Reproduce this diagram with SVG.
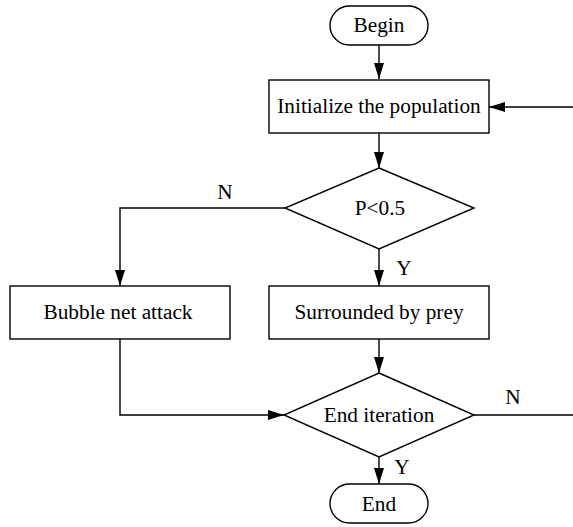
<svg xmlns="http://www.w3.org/2000/svg" width="573" height="527" viewBox="0 0 573 527">
  <style>
    .shape { fill: #ffffff; stroke: #000000; stroke-width: 1.4; }
    .wire { fill: none; stroke: #000000; stroke-width: 1.4; }
    .label { font-family: "Liberation Serif", "Times New Roman", serif; font-size: 21.3px; fill: #000000; text-anchor: middle; }
  </style>
  <defs>
    <marker id="arrow" markerUnits="userSpaceOnUse" markerWidth="16" markerHeight="10" refX="16" refY="5" orient="auto">
      <path d="M0,0 L16,5 L0,10 Z" fill="#000000"/>
    </marker>
  </defs>

  <rect width="573" height="527" fill="#ffffff"/>

  <g id="connectors">
    <line class="wire" x1="379" y1="45" x2="379" y2="79" marker-end="url(#arrow)"/>
    <line class="wire" x1="573" y1="107" x2="489" y2="107" marker-end="url(#arrow)"/>
    <line class="wire" x1="379" y1="133" x2="379" y2="168" marker-end="url(#arrow)"/>
    <polyline class="wire" points="285,208 120,208 120,286" marker-end="url(#arrow)"/>
    <line class="wire" x1="379" y1="249" x2="379" y2="286" marker-end="url(#arrow)"/>
    <line class="wire" x1="379" y1="339" x2="379" y2="373" marker-end="url(#arrow)"/>
    <polyline class="wire" points="120,339 120,415 284,415" marker-end="url(#arrow)"/>
    <line class="wire" x1="474" y1="415" x2="573" y2="415"/>
    <line class="wire" x1="379" y1="457" x2="379" y2="484" marker-end="url(#arrow)"/>
    <text class="label" x="225" y="199">N</text>
    <text class="label" x="404" y="275">Y</text>
    <text class="label" x="513" y="404">N</text>
    <text class="label" x="402" y="474">Y</text>
  </g>

  <g id="begin">
    <rect class="shape" x="330" y="6" width="98" height="39" rx="19.5" ry="19.5"/>
    <text class="label" x="379" y="32">Begin</text>
  </g>

  <g id="init">
    <rect class="shape" x="269" y="80" width="220" height="53"/>
    <text class="label" x="379" y="113">Initialize the population</text>
  </g>

  <g id="decision-p">
    <polygon class="shape" points="379,168 474,208 379,249 285,208"/>
    <text class="label" x="380" y="215">P&lt;0.5</text>
  </g>

  <g id="bubble">
    <rect class="shape" x="10" y="286" width="220" height="53"/>
    <text class="label" x="118" y="319">Bubble net attack</text>
  </g>

  <g id="surround">
    <rect class="shape" x="269" y="286" width="220" height="53"/>
    <text class="label" x="379" y="319">Surrounded by prey</text>
  </g>

  <g id="decision-end">
    <polygon class="shape" points="379,373 474,415 379,457 284,415"/>
    <text class="label" x="379" y="422">End iteration</text>
  </g>

  <g id="end">
    <rect class="shape" x="330" y="484" width="98" height="39" rx="19.5" ry="19.5"/>
    <text class="label" x="379" y="511">End</text>
  </g>
</svg>
